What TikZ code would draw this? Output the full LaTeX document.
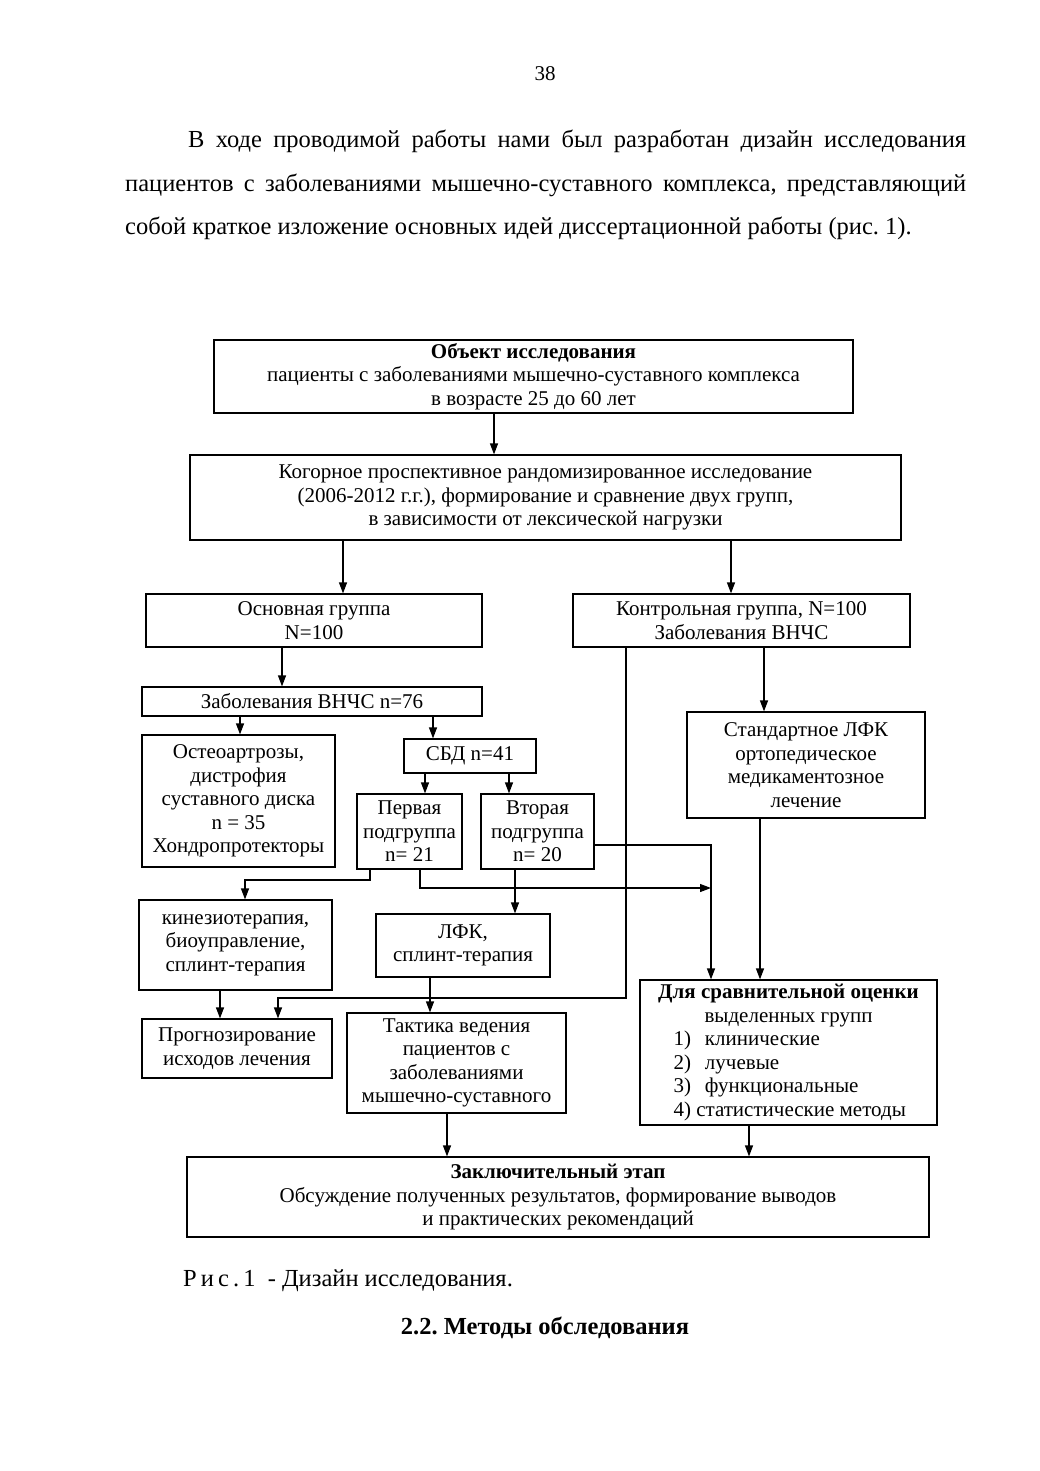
\documentclass[tikz,border=0pt]{standalone}
\usepackage{fontspec}
\setmainfont{Liberation Serif}
\usetikzlibrary{arrows.meta}
\frenchspacing
\newcommand\dgfont{\fontsize{21}{23.5}\selectfont}
\newcommand\txfont{\fontsize{24.5}{30}\selectfont}
\begin{document}
\begin{tikzpicture}[x=1pt,y=-1pt,
  box/.style={draw, line width=1.2pt, align=center, inner sep=1pt, font=\dgfont},
  arr/.style={line width=1.2pt, -{Triangle[length=11pt,width=8pt]}},
  ln/.style={line width=1.2pt},
  txt/.style={inner sep=0pt, anchor=base west, font=\txfont}]
\useasboundingbox[fill=white] (0,0) rectangle (1040,1471);

% page number and text
\node[inner sep=0pt, anchor=base, font=\dgfont] (pnum) at (545,81) {38};
\node[txt] (l1) at (188,148) {\makebox[778pt][s]{В ходе проводимой работы нами был разработан дизайн исследования}};
\node[txt] (l2) at (125,192) {\makebox[841pt][s]{пациентов с заболеваниями мышечно-суставного комплекса, представляющий}};
\node[txt] (l3) at (125,235) {собой краткое изложение основных идей диссертационной работы (рис.~1).};

% boxes
\node[box, minimum width=639pt, minimum height=73pt] (obj) at (533.5,376.5)
  {\textbf{Объект исследования}\\пациенты с заболеваниями мышечно-суставного комплекса\\в возрасте 25 до 60 лет};
\node[box, minimum width=711pt, minimum height=85pt] (kog) at (545.5,497.5)
  {Когорное проспективное рандомизированное исследование\\(2006-2012 г.г.), формирование и сравнение двух групп,\\в зависимости от лексической нагрузки};
\node[box, minimum width=336pt, minimum height=53pt] (main) at (314,620.5)
  {Основная группа\\N=100};
\node[box, minimum width=337pt, minimum height=53pt] (ctrl) at (741.5,620.5)
  {Контрольная группа, N=100\\Заболевания ВНЧС};
\node[box, minimum width=340pt, minimum height=29pt] (vnchs) at (312,701.5)
  {Заболевания ВНЧС n=76};
\node[box, minimum width=193pt, minimum height=132pt] (osteo) at (238.5,801)
  {Остеоартрозы,\\дистрофия\\суставного диска\\n = 35\\Хондропротекторы};
\node[box, minimum width=132pt, minimum height=34pt] (sbd) at (470,756)
  {СБД n=41};
\node[box, minimum width=105pt, minimum height=75pt] (sub1) at (409.5,831.5)
  {Первая\\подгруппа\\n= 21};
\node[box, minimum width=113pt, minimum height=75pt] (sub2) at (537.5,831.5)
  {Вторая\\подгруппа\\n= 20};
\node[box, minimum width=238pt, minimum height=106pt] (std) at (806,765)
  {Стандартное ЛФК\\ортопедическое\\медикаментозное\\лечение};
\node[box, minimum width=193pt, minimum height=90pt] (kin) at (235.5,945)
  {кинезиотерапия,\\биоуправление,\\сплинт-терапия};
\node[box, minimum width=174pt, minimum height=63pt] (lfk) at (463,945.5)
  {ЛФК,\\сплинт-терапия};
\node[box, minimum width=190pt, minimum height=59pt] (prog) at (237,1048.5)
  {Прогнозирование\\исходов лечения};
\node[box, minimum width=219pt, minimum height=100pt] (tact) at (456.5,1063)
  {Тактика ведения\\пациентов с\\заболеваниями\\мышечно-суставного};
\node[box, minimum width=297pt, minimum height=145pt] (cmp) at (788.5,1052.5)
  {\textbf{Для сравнительной оценки}\\выделенных групп\\
   \makebox[230pt][l]{1)\hspace{14pt}клинические}\\
   \makebox[230pt][l]{2)\hspace{14pt}лучевые}\\
   \makebox[230pt][l]{3)\hspace{14pt}функциональные}\\
   \makebox[230pt][l]{4) статистические методы}};
\node[box, minimum width=742pt, minimum height=80pt] (fin) at (558,1197)
  {\textbf{Заключительный этап}\\Обсуждение полученных результатов, формирование выводов\\и практических рекомендаций};

% caption and heading
\node[txt] (cap) at (183,1286) {Р\,и\,с\,.\,1\ \ - Дизайн исследования.};
\node[inner sep=0pt, anchor=base, font=\txfont\bfseries] (head) at (545,1334) {2.2. Методы обследования};

% column / row coordinates
\foreach \v in {494,343,731,282,240,433,425,509,764,760,626,278,711,420,370,245,515,430,220,447,749}
  \coordinate (x\v) at (\v,0);
\foreach \v in {998,845,888,880}
  \coordinate (y\v) at (0,\v);

% connectors
\draw[arr] (obj.south -| x494) -- (kog.north -| x494);
\draw[arr] (kog.south -| x343) -- (main.north -| x343);
\draw[arr] (kog.south -| x731) -- (ctrl.north -| x731);
\draw[arr] (main.south -| x282) -- (vnchs.north -| x282);
\draw[arr] (vnchs.south -| x240) -- (osteo.north -| x240);
\draw[arr] (vnchs.south -| x433) -- (sbd.north -| x433);
\draw[arr] (sbd.south -| x425) -- (sub1.north -| x425);
\draw[arr] (sbd.south -| x509) -- (sub2.north -| x509);
\draw[arr] (ctrl.south -| x764) -- (std.north -| x764);
\draw[arr] (std.south -| x760) -- (cmp.north -| x760);
\draw[arr] (ctrl.south -| x626) -- (x626 |- y998) -- (x278 |- y998) -- (prog.north -| x278);
\draw[arr] (sub2.east |- y845) -- (x711 |- y845) -- (cmp.north -| x711);
\draw[arr] (sub1.south -| x420) -- (x420 |- y888) -- (x711 |- y888);
\draw[arr] (sub1.south -| x370) -- (x370 |- y880) -- (x245 |- y880) -- (kin.north -| x245);
\draw[arr] (sub2.south -| x515) -- (lfk.north -| x515);
\draw[arr] (lfk.south -| x430) -- (tact.north -| x430);
\draw[arr] (kin.south -| x220) -- (prog.north -| x220);
\draw[arr] (tact.south -| x447) -- (fin.north -| x447);
\draw[arr] (cmp.south -| x749) -- (fin.north -| x749);
\end{tikzpicture}
\end{document}
